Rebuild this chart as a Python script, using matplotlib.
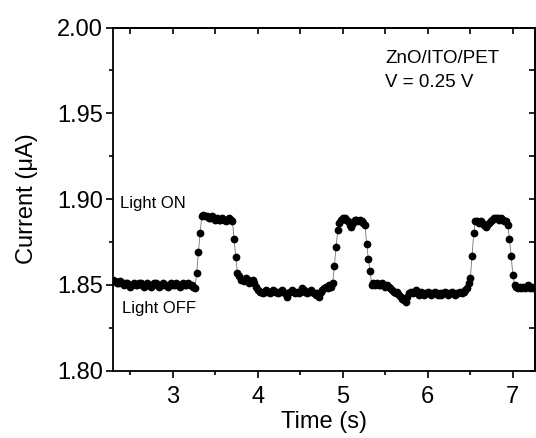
import numpy as np
import matplotlib
matplotlib.use("Agg")
import matplotlib.pyplot as plt
from matplotlib.ticker import MultipleLocator

plt.rcParams['font.family'] = ['Liberation Sans', 'DejaVu Sans']

t0, dt = 2.30, 0.02

base1 = [1.853, 1.852, 1.851, 1.851, 1.852, 1.851, 1.850, 1.851, 1.851, 1.850,
         1.849, 1.850, 1.851, 1.850, 1.850, 1.851, 1.851, 1.850, 1.849, 1.850,
         1.851, 1.850, 1.849, 1.850, 1.851, 1.851, 1.850, 1.849, 1.850, 1.851,
         1.850, 1.850, 1.849, 1.850, 1.851, 1.850, 1.850, 1.851, 1.850, 1.849,
         1.850, 1.851, 1.850, 1.850, 1.851, 1.850, 1.850, 1.849, 1.848]
rise1 = [1.857, 1.869, 1.880]
on1 = [1.890, 1.891, 1.890, 1.890, 1.889, 1.889, 1.890, 1.889, 1.888, 1.889,
       1.888, 1.888, 1.889, 1.888, 1.887, 1.888, 1.889, 1.888, 1.887]
fall1 = [1.877, 1.866, 1.857]
off1a = [1.855, 1.853, 1.853, 1.852, 1.854, 1.853, 1.851, 1.852, 1.853, 1.851, 1.849]
off1b = [1.847, 1.846, 1.846, 1.845, 1.846, 1.847, 1.846, 1.845, 1.846, 1.847,
         1.846, 1.846, 1.845, 1.846, 1.847, 1.846, 1.845, 1.843, 1.845, 1.846,
         1.847, 1.846, 1.845, 1.846, 1.845, 1.846, 1.848, 1.847, 1.846, 1.845,
         1.846, 1.847, 1.846, 1.845, 1.844, 1.845, 1.843, 1.846, 1.847]
off1c = [1.848, 1.849, 1.848, 1.850, 1.849, 1.851]
rise2 = [1.861, 1.872, 1.882]
on2 = [1.886, 1.888, 1.889, 1.889, 1.888, 1.887, 1.885, 1.884, 1.886, 1.888,
       1.888, 1.887, 1.888, 1.887, 1.886, 1.885]
fall2 = [1.874, 1.865, 1.858]
off2a = [1.850, 1.851, 1.850, 1.851, 1.850, 1.850, 1.851, 1.850, 1.849, 1.850,
         1.849, 1.848]
off2b = [1.847, 1.846, 1.845, 1.846, 1.844, 1.843, 1.842, 1.841, 1.840, 1.843,
         1.845, 1.846, 1.845, 1.846, 1.847, 1.845, 1.844, 1.846, 1.845, 1.844,
         1.845, 1.846, 1.845, 1.844, 1.845, 1.846, 1.845, 1.844, 1.845, 1.844,
         1.845, 1.846, 1.845, 1.844, 1.845, 1.846, 1.845, 1.844, 1.845, 1.845,
         1.846, 1.845, 1.846, 1.847, 1.848, 1.851]
rise3 = [1.854, 1.867, 1.880]
on3 = [1.887, 1.887, 1.886, 1.887, 1.886, 1.885, 1.884, 1.885, 1.886, 1.887,
       1.888, 1.889, 1.889, 1.889, 1.888, 1.889, 1.888, 1.887, 1.887, 1.885]
fall3 = [1.877, 1.867, 1.856]
off3 = [1.850, 1.849, 1.848, 1.849, 1.848, 1.849, 1.848, 1.849, 1.850, 1.848,
        1.849, 1.848, 1.849]

current = np.array(base1 + rise1 + on1 + fall1 + off1a + off1b + off1c
                   + rise2 + on2 + fall2 + off2a + off2b
                   + rise3 + on3 + fall3 + off3)
time = t0 + dt * np.arange(len(current))

fig = plt.figure(figsize=(5.36, 4.38), dpi=100)
ax = fig.add_axes([0.21, 0.1537, 0.788, 0.7835])

ax.plot(time, current, color='0.45', lw=0.6, zorder=2)
ax.plot(time, current, 'o', color='black', ms=5.6, mew=0, zorder=3)

ax.set_xlim(2.29, 7.26)
ax.set_ylim(1.80, 2.00)
ax.xaxis.set_major_locator(MultipleLocator(1))
ax.xaxis.set_minor_locator(MultipleLocator(0.5))
ax.yaxis.set_major_locator(MultipleLocator(0.05))
ax.yaxis.set_minor_locator(MultipleLocator(0.025))
ax.yaxis.set_major_formatter(plt.FormatStrFormatter('%.2f'))

ax.tick_params(which='both', direction='out', width=1.2, labelsize=17)
ax.tick_params(which='major', length=5)
ax.tick_params(which='minor', length=3)
ax.tick_params(axis='x', pad=6)
ax.tick_params(axis='y', pad=2)
for s in ax.spines.values():
    s.set_linewidth(1.3)

top = ax.secondary_xaxis('top')
top.xaxis.set_major_locator(MultipleLocator(0.5))
top.tick_params(direction='in', length=4, width=1.2, labeltop=False)
top.spines['top'].set_linewidth(1.3)
right = ax.secondary_yaxis('right')
right.yaxis.set_major_locator(MultipleLocator(0.025))
right.tick_params(direction='in', length=4, width=1.2, labelright=False)
right.spines['right'].set_linewidth(1.3)

ax.set_xlabel('Time (s)', fontsize=17, labelpad=2)
ax.set_ylabel('Current (\u03bcA)', fontsize=17, labelpad=14)

ax.text(2.38, 1.8975, 'Light ON', fontsize=12, va='center', ha='left')
ax.text(2.40, 1.8365, 'Light OFF', fontsize=12, va='center', ha='left')
ax.text(5.50, 1.982, 'ZnO/ITO/PET', fontsize=13.5, va='center', ha='left')
ax.text(5.50, 1.968, 'V = 0.25 V', fontsize=13.5, va='center', ha='left')

fig.savefig('out.png', dpi=100)
